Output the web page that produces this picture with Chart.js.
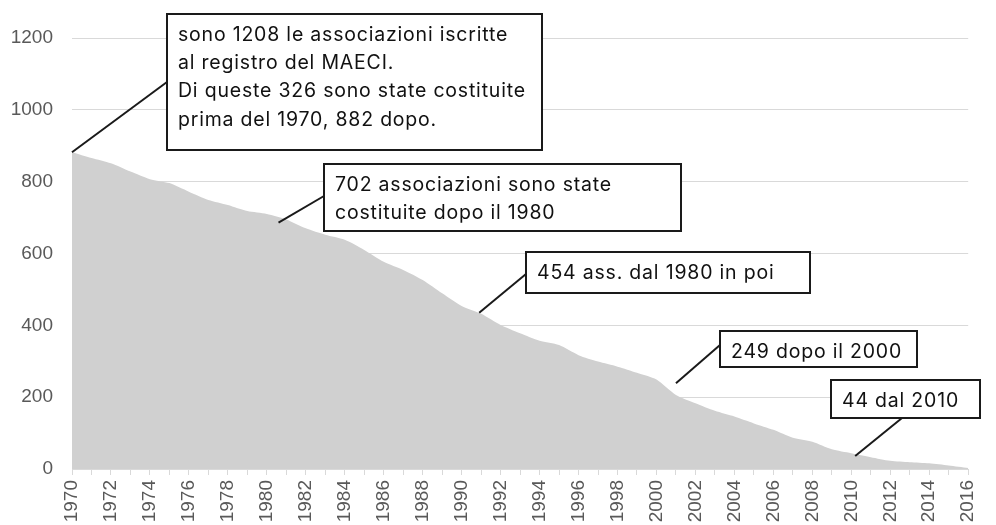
<!DOCTYPE html>
<html>
<head>
<meta charset="utf-8">
<script src="https://cdn.jsdelivr.net/npm/chart.js@4.4.0/dist/chart.umd.min.js"></script>
<style>
  html, body { margin: 0; padding: 0; background: #fff; }
  #wrap { width: 996px; height: 525px; position: relative; }
</style>
</head>
<body>
<div id="wrap"><canvas id="myChart"></canvas></div>
<script>
// anni (asse x)
var years = ['1970','1971','1972','1973','1974','1975','1976','1977','1978','1979',
             '1980','1981','1982','1983','1984','1985','1986','1987','1988','1989',
             '1990','1991','1992','1993','1994','1995','1996','1997','1998','1999',
             '2000','2001','2002','2003','2004','2005','2006','2007','2008','2009',
             '2010','2011','2012','2013','2014','2015','2016'];

// associazioni costituite da quell'anno in poi
var associazioni = [882, 866, 851, 828, 807, 796, 772, 749, 735, 718,
                    710, 695, 670, 652, 638, 610, 577, 554, 526, 489,
                    454, 432, 401, 378, 357, 345, 317, 299, 285, 268,
                    249, 206, 183, 162, 146, 127, 109, 87, 76, 55,
                    44, 33, 23, 19, 16, 10, 3];

var yTicks = [0, 200, 400, 600, 800, 1000, 1200];

// testi dei riquadri
var noteTexts = [
  ['sono 1208 le associazioni iscritte', 'al registro del MAECI.', 'Di queste 326 sono state costituite', 'prima del 1970, 882 dopo.'],
  ['702 associazioni sono state', 'costituite dopo il 1980'],
  ['454 ass. dal 1980 in poi'],
  ['249 dopo il 2000'],
  ['44 dal 2010']
];
// punto indicato da ogni nota (indice anno, valore)
var noteIndex = [0, 10.6, 20.9, 31, 40.2];
var noteValue = [882, 686, 435, 239, 36];

// riquadri: x, y, w, h e attacco della linea sul riquadro
var noteBoxes = [
  { x: 167, y: 14,  w: 375, h: 136, lx: 167, ly: 82 },
  { x: 324, y: 164, w: 357, h: 67,  lx: 324, ly: 196 },
  { x: 526, y: 252, w: 284, h: 41,  lx: 526, ly: 274 },
  { x: 720, y: 331, w: 197, h: 36,  lx: 720, ly: 345 },
  { x: 831, y: 380, w: 149, h: 38,  lx: 902, ly: 418 }
];

var notesPlugin = {
  id: 'notes',
  afterDatasetsDraw: function(chart) {
    var ctx = chart.ctx;
    var xs = chart.scales.x, ys = chart.scales.y;
    ctx.save();
    noteBoxes.forEach(function(b, i) {
      var px = xs.getPixelForValue(noteIndex[i]);
      var py = ys.getPixelForValue(noteValue[i]);
      ctx.strokeStyle = '#1a1a1a';
      ctx.lineWidth = 2;
      ctx.beginPath();
      ctx.moveTo(px, py);
      ctx.lineTo(b.lx, b.ly);
      ctx.stroke();

      ctx.fillStyle = '#ffffff';
      ctx.fillRect(b.x, b.y, b.w, b.h);
      ctx.strokeRect(b.x, b.y, b.w, b.h);

      ctx.fillStyle = '#111111';
      ctx.font = '19.5px Inter';
      ctx.letterSpacing = '0.8px';
      ctx.textBaseline = 'middle';
      ctx.textAlign = 'left';
      noteTexts[i].forEach(function(t, j) {
        ctx.fillText(t, b.x + 11, b.y + 21 + j * 28.3);
      });
    });
    ctx.restore();
  }
};

var ctx = document.getElementById('myChart');
var myChart = new Chart(ctx, {
  type: 'line',
  data: {
    labels: years,
    datasets: [{
      label: 'Associazioni',
      data: associazioni,
      fill: 'origin',
      backgroundColor: '#d0d0d0',
      borderWidth: 0,
      borderColor: 'rgba(0,0,0,0)',
      pointRadius: 0,
      tension: 0.25
    }]
  },
  options: {
    responsive: true,
    maintainAspectRatio: false,
    animation: false,
    layout: { padding: { top: 38, right: 9, left: 0, bottom: 0 } },
    plugins: {
      legend: { display: false },
      tooltip: { enabled: false }
    },
    scales: {
      x: {
        offset: false,
        grid: { display: true, drawOnChartArea: false, drawTicks: true, tickLength: 6, color: '#d9d9d9' },
        border: { color: '#d9d9d9' },
        ticks: {
          autoSkip: false,
          minRotation: 90,
          maxRotation: 90,
          padding: 5,
          color: '#595959',
          font: { family: "'Liberation Sans', Arial, sans-serif", size: 19 },
          callback: function(v, i) { return i % 2 === 0 ? years[i] : ''; }
        },
        afterFit: function(scale) { scale.height = 56; }
      },
      y: {
        min: 0,
        max: 1200,
        afterBuildTicks: function(scale) {
          scale.ticks = yTicks.map(function(v) { return { value: v }; });
        },
        grid: { color: '#d9d9d9', drawTicks: false },
        border: { display: false },
        ticks: {
          padding: 19,
          color: '#595959',
          font: { family: "'Liberation Sans', Arial, sans-serif", size: 19 },
          callback: function(v) { return String(v); }
        },
        afterFit: function(scale) { scale.width = 72; }
      }
    }
  },
  plugins: [notesPlugin]
});
</script>
</body>
</html>
